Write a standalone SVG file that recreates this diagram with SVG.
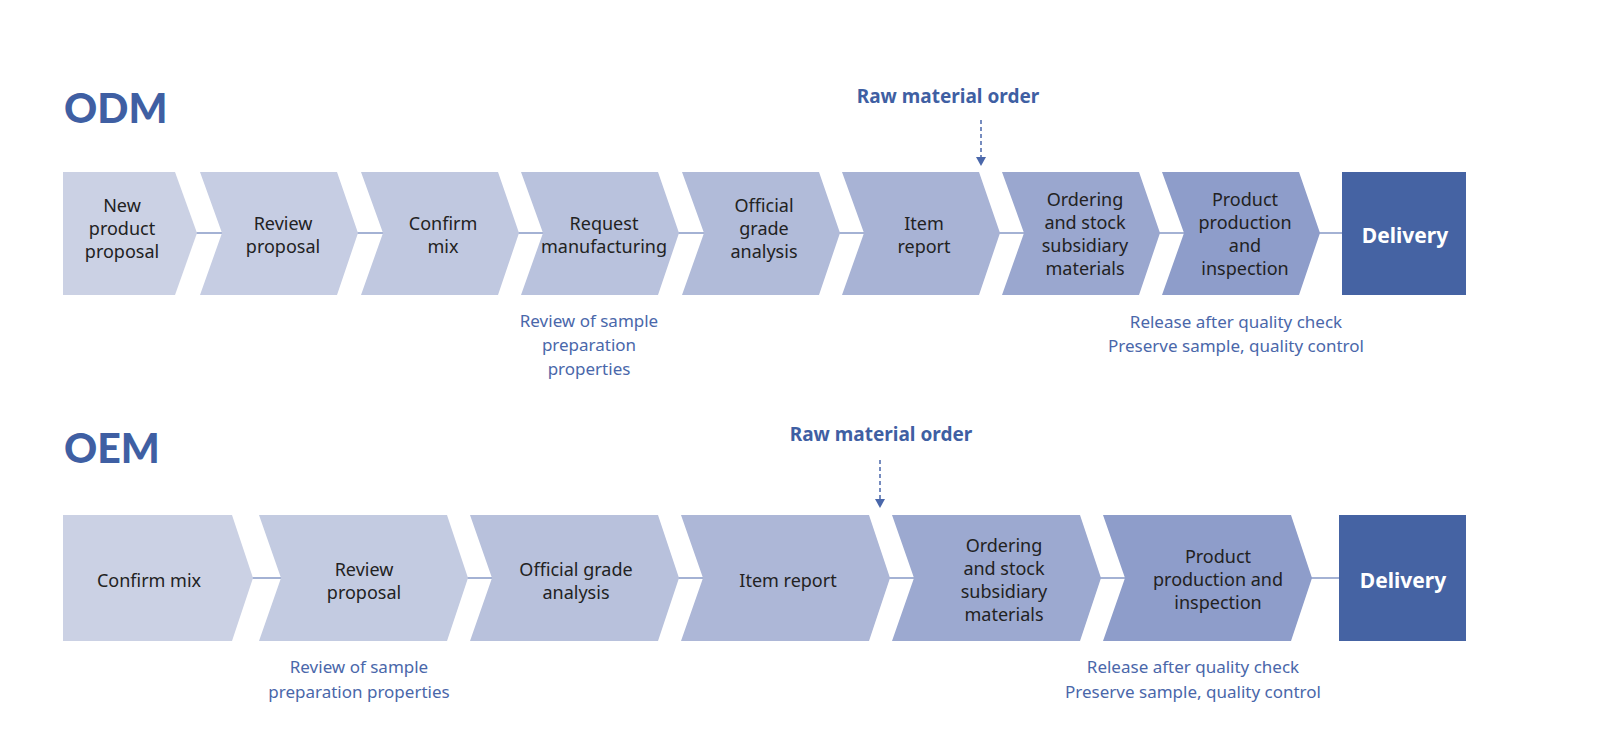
<svg xmlns="http://www.w3.org/2000/svg" width="1600" height="755" viewBox="0 0 1600 755">
<style>
text{font-family:"Noto Sans","Open Sans",sans-serif}
.t{font-size:18px;fill:#222;text-anchor:middle}
.b{font-size:17px;fill:#4a67aa;text-anchor:middle}
.h{font-size:41px;font-weight:900;fill:#3f5fa3;font-family:"Lato","Noto Sans",sans-serif}
.r{font-size:19px;font-weight:bold;fill:#3f5fa3;text-anchor:middle}
.d{font-size:21px;font-weight:bold;fill:#fff;text-anchor:middle}
.ln{stroke:#4a67aa;stroke-width:1.2}
.dash{stroke:#4a67aa;stroke-width:1.5;stroke-dasharray:4 3}
</style>
<rect width="1600" height="755" fill="#fff"/>
<text class="h" x="64" y="123">ODM</text>
<text class="h" x="64" y="463">OEM</text>
<g id="connectors">
<line class="ln" x1="190" y1="233" x2="225" y2="233"/><line class="ln" x1="350" y1="233" x2="385" y2="233"/><line class="ln" x1="510" y1="233" x2="545" y2="233"/><line class="ln" x1="671" y1="233" x2="706" y2="233"/><line class="ln" x1="831" y1="233" x2="866" y2="233"/><line class="ln" x1="991" y1="233" x2="1026" y2="233"/><line class="ln" x1="1151" y1="233" x2="1186" y2="233"/><line class="ln" x1="1312" y1="233" x2="1345" y2="233"/>
<line class="ln" x1="245" y1="578" x2="283" y2="578"/><line class="ln" x1="456" y1="578" x2="494" y2="578"/><line class="ln" x1="667" y1="578" x2="705" y2="578"/><line class="ln" x1="878" y1="578" x2="916" y2="578"/><line class="ln" x1="1089" y1="578" x2="1127" y2="578"/><line class="ln" x1="1300" y1="578" x2="1342" y2="578"/>
<line class="dash" x1="981" y1="120" x2="981" y2="158"/><path d="M976,157 L986,157 L981,166 Z" fill="#4a67aa"/>
<line class="dash" x1="880" y1="460" x2="880" y2="500"/><path d="M875,499 L885,499 L880,508 Z" fill="#4a67aa"/>
</g>
<text class="r" x="948" y="103">Raw material order</text>
<text class="r" x="881" y="441">Raw material order</text>
<g id="odm1"><path d="M63,172 H175 L197,233 L175,295 H63 Z" fill="#cbd1e4"/><text class="t" x="122" y="212">New</text><text class="t" x="122" y="235">product</text><text class="t" x="122" y="258">proposal</text></g>
<g id="odm2"><path d="M200,172 H337 L358,233 L337,295 H200 L222,233 Z" fill="#c6cde3"/><text class="t" x="283" y="230">Review</text><text class="t" x="283" y="253">proposal</text></g>
<g id="odm3"><path d="M361,172 H498 L519,233 L498,295 H361 L383,233 Z" fill="#c0c8e0"/><text class="t" x="443" y="230">Confirm</text><text class="t" x="443" y="253">mix</text></g>
<g id="odm4"><path d="M521,172 H658 L679,233 L658,295 H521 L543,233 Z" fill="#b9c2dd"/><text class="t" x="604" y="230">Request</text><text class="t" x="604" y="253">manufacturing</text></g>
<g id="odm5"><path d="M682,172 H819 L840,233 L819,295 H682 L704,233 Z" fill="#b1bbd9"/><text class="t" x="764" y="212">Official</text><text class="t" x="764" y="235">grade</text><text class="t" x="764" y="258">analysis</text></g>
<g id="odm6"><path d="M842,172 H979 L1000,233 L979,295 H842 L864,233 Z" fill="#a8b3d5"/><text class="t" x="924" y="230">Item</text><text class="t" x="924" y="253">report</text></g>
<g id="odm7"><path d="M1002,172 H1139 L1160,233 L1139,295 H1002 L1024,233 Z" fill="#9aa7cf"/><text class="t" x="1085" y="206">Ordering</text><text class="t" x="1085" y="229">and stock</text><text class="t" x="1085" y="252">subsidiary</text><text class="t" x="1085" y="275">materials</text></g>
<g id="odm8"><path d="M1162,172 H1299 L1320,233 L1299,295 H1162 L1184,233 Z" fill="#8e9dca"/><text class="t" x="1245" y="206">Product</text><text class="t" x="1245" y="229">production</text><text class="t" x="1245" y="252">and</text><text class="t" x="1245" y="275">inspection</text></g>
<g id="odm9"><rect x="1342" y="172" width="124" height="123" fill="#4563a3"/><text class="d" x="1405" y="243">Delivery</text></g>
<text class="b" x="589" y="327">Review of sample</text><text class="b" x="589" y="351">preparation</text><text class="b" x="589" y="375">properties</text>
<text class="b" x="1236" y="328">Release after quality check</text><text class="b" x="1236" y="352">Preserve sample, quality control</text>
<g id="oem1"><path d="M63,515 H232 L253,578 L232,641 H63 Z" fill="#cbd1e4"/><text class="t" x="149" y="587">Confirm mix</text></g>
<g id="oem2"><path d="M259,515 H447 L468,578 L447,641 H259 L281,578 Z" fill="#c3cbe1"/><text class="t" x="364" y="576">Review</text><text class="t" x="364" y="599">proposal</text></g>
<g id="oem3"><path d="M470,515 H658 L679,578 L658,641 H470 L492,578 Z" fill="#b8c1dc"/><text class="t" x="576" y="576">Official grade</text><text class="t" x="576" y="599">analysis</text></g>
<g id="oem4"><path d="M681,515 H869 L890,578 L869,641 H681 L703,578 Z" fill="#adb7d7"/><text class="t" x="788" y="587">Item report</text></g>
<g id="oem5"><path d="M892,515 H1080 L1101,578 L1080,641 H892 L914,578 Z" fill="#9ca9d0"/><text class="t" x="1004" y="552">Ordering</text><text class="t" x="1004" y="575">and stock</text><text class="t" x="1004" y="598">subsidiary</text><text class="t" x="1004" y="621">materials</text></g>
<g id="oem6"><path d="M1103,515 H1291 L1312,578 L1291,641 H1103 L1125,578 Z" fill="#8e9dca"/><text class="t" x="1218" y="563">Product</text><text class="t" x="1218" y="586">production and</text><text class="t" x="1218" y="609">inspection</text></g>
<g id="oem7"><rect x="1339" y="515" width="127" height="126" fill="#4563a3"/><text class="d" x="1403" y="588">Delivery</text></g>
<text class="b" x="359" y="673">Review of sample</text><text class="b" x="359" y="698">preparation properties</text>
<text class="b" x="1193" y="673">Release after quality check</text><text class="b" x="1193" y="698">Preserve sample, quality control</text>
</svg>
